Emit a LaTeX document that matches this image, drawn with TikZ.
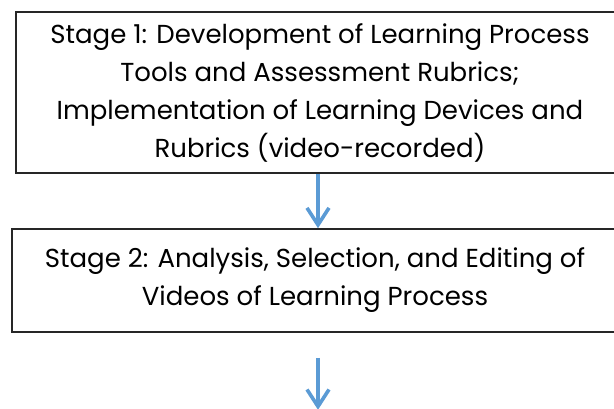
\documentclass[tikz,border=0pt]{standalone}
\usepackage{fontspec}
\setmainfont{Poppins}
\usetikzlibrary{arrows.meta, positioning}
\definecolor{flowblue}{RGB}{91,155,213}

\begin{document}
\begin{tikzpicture}[x=1pt, y=1pt,
    stagebox/.style={draw=black!85, line width=1.6pt, align=center,
        font=\fontsize{26}{38}\selectfont, inner sep=0pt},
    flowarrow/.style={draw=flowblue, line width=3.6pt,
        -{Straight Barb[length=17pt,width=22pt]}}]
    \useasboundingbox (0,0) rectangle (614,-409);

    \node[stagebox, minimum width=608pt, minimum height=161pt] (stageone) at (320,-92.5)
        {Stage 1: Development of Learning Process\\
         Tools and Assessment Rubrics;\\
         Implementation of Learning Devices and\\
         Rubrics (video-recorded)};
    \node[stagebox, minimum width=606pt, minimum height=103pt] (stagetwo) at (315,-280.5)
        {Stage 2: Analysis, Selection, and Editing of\\
         Videos of Learning Process};

    \coordinate[below=25pt of stagetwo.south, xshift=3pt] (nextfrom);
    \coordinate[below=77pt of stagetwo.south, xshift=3pt] (nextto);

    \draw[flowarrow] ([xshift=-2pt]stageone.south) -- ([xshift=3pt]stagetwo.north);
    \draw[flowarrow] (nextfrom) -- (nextto);

\end{tikzpicture}
\end{document}
